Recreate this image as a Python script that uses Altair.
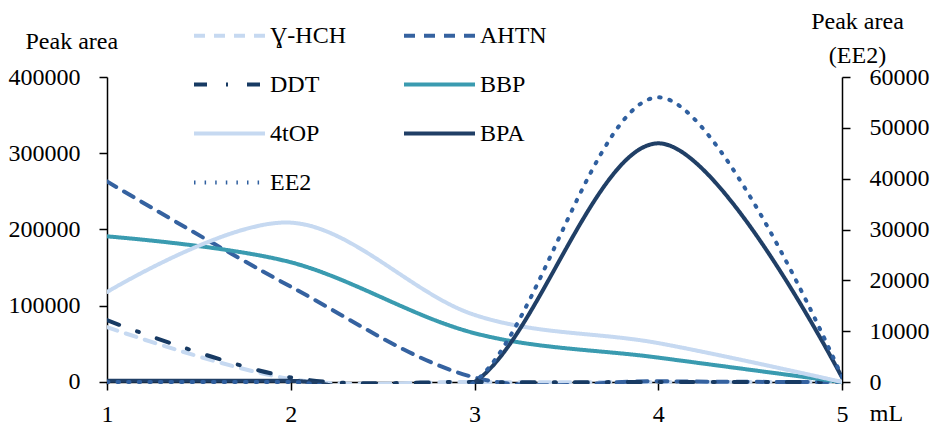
import altair as alt
import pandas as pd

x_vals = [1, 2, 3, 4, 5]
series_names = ["Ɣ-HCH", "AHTN", "DDT", "BBP", "4tOP", "BPA", "EE2"]
hch = [72000, 4000, 0, 0, 0]
ahtn = [263000, 125000, 6000, 1000, 0]
ddt = [81000, 6000, 0, 0, 0]
bbp = [191000, 157000, 64000, 32000, 0]
top4 = [118000, 209000, 88000, 51000, 0]
bpa = [1500, 1500, 0, 313000, 6000]
ee2 = [0, 0, 0, 56000, 1000]

left_ticks = [0, 100000, 200000, 300000, 400000]
right_ticks = [0, 10000, 20000, 30000, 40000, 50000, 60000]

colors = ["#c6d9f1", "#3562a0", "#173a63", "#3a9bb0", "#c6d9f1", "#203f66", "#2f5f9f"]
dashes = [[11, 9], [11, 9], [13, 19, 2, 19], [1, 0], [1, 0], [1, 0], [1.5, 9.1]]

series_values = [hch, ahtn, ddt, bbp, top4, bpa, ee2]
rows = []
for name, vals in zip(series_names, series_values):
    for xv, v in zip(x_vals, vals):
        rows.append({"series": name, "x": xv, "value": v})
df = pd.DataFrame(rows)

FONT = "Liberation Serif"
FS = 24

legend = alt.Legend(
    title=None, orient="none", legendX=85, legendY=-53, columns=2, direction="horizontal",
    columnPadding=56, rowPadding=24, symbolType="stroke", symbolSize=5041,
    symbolStrokeWidth=4, labelFont=FONT, labelFontSize=FS, labelColor="black",
    labelOffset=3, clipHeight=23, padding=0, symbolLimit=0,
)
color_enc = alt.Color("series:N", scale=alt.Scale(domain=series_names, range=colors), legend=legend)
dash_enc = alt.StrokeDash("series:N", scale=alt.Scale(domain=series_names, range=dashes), legend=legend)

x_enc = alt.X(
    "x:Q",
    scale=alt.Scale(domain=[1, 5], nice=False, zero=False),
    axis=alt.Axis(
        values=x_vals, format="d", title="mL", titleAngle=0, titleX=779, titleY=38,
        titleAlign="center", titleBaseline="alphabetic", offset=-2, labelPadding=12,
        labelFlush=False,
    ),
)

base = alt.Chart(df)
mark_kw = dict(clip=True, interpolate="cardinal", strokeWidth=4, strokeCap="round", strokeJoin="round")

left = base.transform_filter(alt.datum.series != "EE2").mark_line(**mark_kw).encode(
    x=x_enc,
    y=alt.Y(
        "value:Q",
        scale=alt.Scale(domain=[-2623, 400000], nice=False, zero=False),
        axis=alt.Axis(
            values=left_ticks, format="d", title="Peak area", titleAngle=0,
            titleX=-82, titleY=-29, titleAlign="left", titleBaseline="alphabetic",
            labelPadding=19,
        ),
    ),
    color=color_enc,
    strokeDash=dash_enc,
    detail="series:N",
)

right = base.transform_filter(alt.datum.series == "EE2").mark_line(**mark_kw).encode(
    x=x_enc,
    y=alt.Y(
        "value:Q",
        scale=alt.Scale(domain=[-393.4, 60000], nice=False, zero=False),
        axis=alt.Axis(
            orient="right", values=right_ticks, format="d", title=["Peak area", "(EE2)"],
            titleAngle=0, titleX=15, titleY=-49, titleAlign="center",
            titleBaseline="alphabetic", titleLineHeight=34, labelPadding=19,
        ),
    ),
    color=color_enc,
    strokeDash=dash_enc,
)

chart = alt.layer(left, right).resolve_scale(y="independent").properties(
    width=735, height=307,
    autosize=alt.AutoSizeParams(type="none"),
    padding={"left": 107, "top": 77, "right": 89, "bottom": 42},
    background="white",
).configure_view(stroke=None).configure_axis(
    grid=False, labelFont=FONT, labelFontSize=FS, labelColor="black",
    titleFont=FONT, titleFontSize=FS, titleColor="black", titleFontWeight="normal",
    domainColor="black", tickColor="black", domainWidth=1.5, tickWidth=1.5, tickSize=8,
    labelOverlap=False,
)

chart.save("out.html", embed_options={"renderer": "svg", "actions": False})
